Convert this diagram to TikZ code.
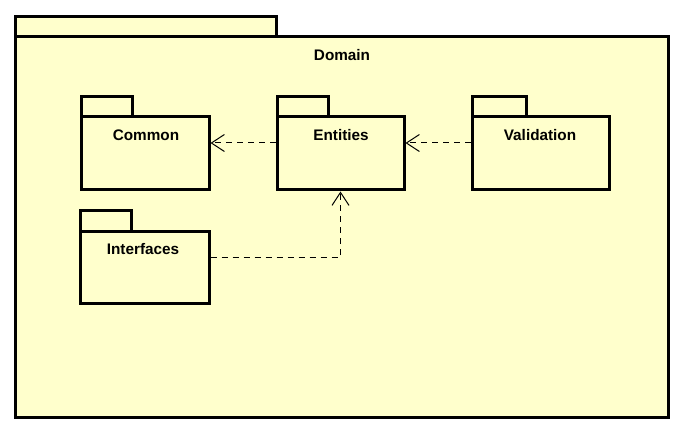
\documentclass[tikz,border=0pt]{standalone}
\usepackage{fontspec}
\setmainfont{Liberation Sans}
\usetikzlibrary{arrows.meta,calc}
\definecolor{pkgfill}{HTML}{FFFFCC}
\begin{document}
\begin{tikzpicture}[x=1pt,y=-1pt,
  pkgline/.style={draw=black,line width=3pt,fill=pkgfill,line join=miter},
  body/.style={pkgline,rectangle,outer sep=0pt,inner sep=0pt,anchor=north west},
  lbl/.style={font=\bfseries\fontsize{15.3}{17}\selectfont,inner sep=0pt},
  dep/.style={draw=black,line width=1pt,dash pattern=on 6pt off 5pt,
    -{Straight Barb[length=13pt,width=17pt,line width=1pt]}}]
\useasboundingbox (0,0) rectangle (679,430);
% Domain
\draw[pkgline] (15,17) rectangle (276,37);
\node[body,minimum width=653,minimum height=380] (domain) at (15,37) {};
\node[lbl] (domainlbl) at (342,55) {Domain};
% Common
\draw[pkgline] (81,97) rectangle (132,117);
\node[body,minimum width=128,minimum height=73] (common) at (81,117) {};
\node[lbl] (commonlbl) at (146,135) {Common};
% Entities
\draw[pkgline] (277,97) rectangle (328,117);
\node[body,minimum width=127,minimum height=73] (entities) at (277,117) {};
\node[lbl] (entitieslbl) at (341,135) {Entities};
% Validation
\draw[pkgline] (472,97) rectangle (526,117);
\node[body,minimum width=137,minimum height=73] (validation) at (472,117) {};
\node[lbl] (validationlbl) at (540,135) {Validation};
% Interfaces
\draw[pkgline] (80,211) rectangle (131,231);
\node[body,minimum width=129,minimum height=72] (interfaces) at (80,231) {};
\node[lbl] (interfaceslbl) at (143,249) {Interfaces};
% dependencies
\draw[dep] ($(entities.north west)+(-1.5,26)$) -- ($(common.north east)+(1.5,26)$);
\draw[dep] ($(validation.north west)+(-1.5,26)$) -- ($(entities.north east)+(1.5,26)$);
\draw[dep] ($(interfaces.north east)+(1.5,26)$) -| ($(entities.south)+(0,1.5)$);
\end{tikzpicture}
\end{document}
